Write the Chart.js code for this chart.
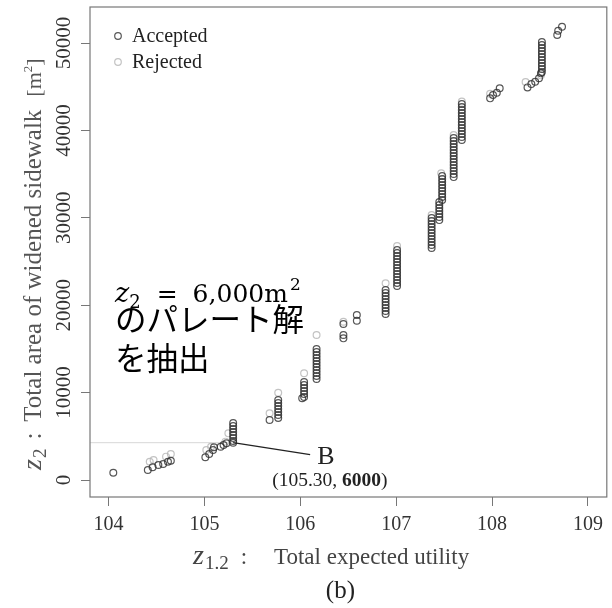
<!DOCTYPE html>
<html>
<head>
<meta charset="utf-8">
<script src="https://cdn.jsdelivr.net/npm/chart.js@4.4.0/dist/chart.umd.min.js"></script>
<style>
  html, body { margin: 0; padding: 0; background: #fff; }
  #wrap { width: 612px; height: 608px; }
</style>
</head>
<body>
<div id="wrap"><canvas id="c" width="612" height="608"></canvas></div>
<script>
// accepted solutions (dark rings)
const acceptedX = [
  104.05, 104.41, 104.46, 104.52, 104.57, 104.62, 104.65,
  105.01, 105.05, 105.09, 105.10, 105.17, 105.20, 105.23,
  105.30, 105.30, 105.30, 105.30, 105.30, 105.30, 105.30, 105.30,
  105.68,
  105.77, 105.77, 105.77, 105.77, 105.77, 105.77, 105.77,
  106.02, 106.04, 106.04, 106.04, 106.04, 106.04, 106.04,
  106.17, 106.17, 106.17, 106.17, 106.17, 106.17, 106.17, 106.17, 106.17, 106.17, 106.17,
  106.45, 106.45, 106.45,
  106.59, 106.59,
  106.89, 106.89, 106.89, 106.89, 106.89, 106.89, 106.89, 106.89, 106.89,
  107.01, 107.01, 107.01, 107.01, 107.01, 107.01, 107.01, 107.01, 107.01, 107.01, 107.01, 107.01, 107.01,
  107.37, 107.37, 107.37, 107.37, 107.37, 107.37, 107.37, 107.37, 107.37, 107.37, 107.37,
  107.45, 107.45, 107.45, 107.45, 107.45, 107.45, 107.45,
  107.48, 107.48, 107.48, 107.48, 107.48, 107.48, 107.48, 107.48, 107.48,
  107.60, 107.60, 107.60, 107.60, 107.60, 107.60, 107.60, 107.60, 107.60, 107.60, 107.60, 107.60, 107.60, 107.60,
  107.685, 107.685, 107.685, 107.685, 107.685, 107.685, 107.685, 107.685, 107.685, 107.685, 107.685, 107.685, 107.685,
  107.98, 108.01, 108.05, 108.08,
  108.37, 108.41, 108.45, 108.49, 108.51,
  108.52, 108.52, 108.52, 108.52, 108.52, 108.52, 108.52, 108.52, 108.52, 108.52, 108.52,
  108.68, 108.69, 108.73
];
const acceptedY = [
  835, 1144, 1453, 1716, 1830, 2094, 2208,
  2597, 2974, 3432, 3741, 3810, 4004, 4198,
  4270, 4460, 4800, 5150, 5490, 5830, 6180, 6520,
  6860,
  7090, 7440, 7780, 8120, 8470, 8810, 9150,
  9350, 9500, 9840, 10180, 10530, 10870, 11210,
  11560, 11900, 12240, 12580, 12930, 13270, 13610, 13960, 14300, 14640, 14990,
  16210, 16590, 17850,
  18220, 18880,
  18990, 19330, 19680, 20020, 20360, 20710, 21050, 21390, 21740,
  22190, 22540, 22880, 23220, 23570, 23910, 24250, 24600, 24940, 25280, 25630, 25970, 26310,
  26540, 26880, 27230, 27570, 27910, 28260, 28600, 28940, 29290, 29630, 29970,
  29740, 30090, 30430, 30770, 31120, 31460, 31800,
  32030, 32380, 32720, 33060, 33410, 33750, 34090, 34430, 34780,
  34660, 35010, 35350, 35690, 36040, 36380, 36720, 37070, 37410, 37750, 38100, 38440, 38780, 39130,
  38900, 39240, 39580, 39930, 40270, 40610, 40950, 41300, 41640, 41980, 42330, 42670, 43010,
  43670, 44040, 44310, 44810,
  44920, 45300, 45570, 45960, 46530,
  46680, 47020, 47360, 47700, 48050, 48390, 48730, 49080, 49420, 49760, 50110,
  50910, 51400, 51860
];
// rejected solutions (light rings)
const rejectedX = [
  104.43, 104.47, 104.60, 104.65, 105.02, 105.07, 105.22, 105.25,
  105.68, 105.77, 106.04, 106.17, 106.45, 106.89, 107.01, 107.37,
  107.47, 107.60, 107.685, 107.98, 108.35, 108.51
];
const rejectedY = [
  2090, 2290, 2670, 2980, 3430, 3810, 4390, 5340,
  7630, 9990, 12210, 16590, 18100, 22500, 26770, 30320,
  35090, 39470, 43300, 44200, 45530, 46300
];
const seriesNames = ["Accepted", "Rejected"];
const xTicks = [104, 105, 106, 107, 108, 109];
const yTicks = [0, 10000, 20000, 30000, 40000, 50000];
const pointB = { x: 105.30, y: 4270 };
const pointBLabel = ["105.30", "6000"];
const xTitle = ["z", "1.2", "Total expected utility"];
const yTitle = ["z", "2", "Total area of widened sidewalk", "m", "2"];
const noteLines = ["のパレート解", "を抽出"];

const toPoints = (xs, ys) => xs.map((x, i) => ({ x: x, y: ys[i] }));

const serif = "'Liberation Serif', 'DejaVu Serif', serif";

// draws a run of [text, font, dx before, dy] pieces from (0,0) along +x
function drawRun(ctx, pieces) {
  let x = 0;
  pieces.forEach(p => {
    ctx.font = p[1];
    x += p[2] || 0;
    ctx.fillText(p[0], x, p[3] || 0);
    x += ctx.measureText(p[0]).width;
  });
}

const decorations = {
  id: "decorations",
  beforeDatasetsDraw(chart) {
    const { ctx, chartArea, scales } = chart;
    const by = scales.y.getPixelForValue(pointB.y);
    const bx = scales.x.getPixelForValue(pointB.x);
    ctx.save();
    ctx.strokeStyle = "#d8d8d8";
    ctx.lineWidth = 1;
    ctx.beginPath();
    ctx.moveTo(chartArea.left, by);
    ctx.lineTo(bx, by);
    ctx.stroke();
    ctx.restore();
  },
  afterDraw(chart) {
    const { ctx, chartArea, scales } = chart;
    const a = chartArea;
    ctx.save();

    // plot box
    ctx.strokeStyle = "#777";
    ctx.lineWidth = 1.2;
    ctx.strokeRect(a.left, a.top, a.right - a.left, a.bottom - a.top);

    // rotated y tick labels
    ctx.fillStyle = "#333";
    ctx.font = "21px " + serif;
    ctx.textAlign = "center";
    ctx.textBaseline = "middle";
    scales.y.ticks.forEach(t => {
      const py = scales.y.getPixelForValue(t.value);
      ctx.save();
      ctx.translate(a.left - 26, py);
      ctx.rotate(-Math.PI / 2);
      ctx.fillText(String(t.value), 0, 0);
      ctx.restore();
    });

    // axis titles
    ctx.textAlign = "left";
    ctx.textBaseline = "alphabetic";
    ctx.fillStyle = "#444";
    ctx.save();
    ctx.translate(a.left + 103, a.bottom + 67);
    drawRun(ctx, [
      [xTitle[0], "italic 28px " + serif, 0, 0],
      [xTitle[1], "19px " + serif, 1, 5],
      [":", "23px " + serif, 12, 0],
      [xTitle[2], "23px " + serif, 27, 0],
    ]);
    ctx.restore();

    ctx.fillStyle = "#555";
    ctx.save();
    ctx.translate(41, a.bottom - 27);
    ctx.rotate(-Math.PI / 2);
    drawRun(ctx, [
      [yTitle[0], "italic 28px " + serif, 0, 0],
      [yTitle[1], "19px " + serif, 1, 5],
      [":", "25px " + serif, 9, 0],
      [yTitle[2], "25px " + serif, 11, 0],
      ["[", "22px " + serif, 13, 0],
      [yTitle[3], "22px " + serif, 0, 0],
      [yTitle[4], "13px " + serif, 0, -9],
      ["]", "22px " + serif, 0, 0],
    ]);
    ctx.restore();

    // legend
    const ds = chart.data.datasets;
    ctx.font = "20px " + serif;
    ctx.textBaseline = "middle";
    ds.forEach((d, i) => {
      const ly = a.top + 29 + i * 26;
      ctx.beginPath();
      ctx.arc(a.left + 28, ly, 3.3, 0, Math.PI * 2);
      ctx.strokeStyle = d.borderColor;
      ctx.lineWidth = 1.2;
      ctx.stroke();
      ctx.fillStyle = "#222";
      ctx.fillText(d.label, a.left + 42, ly + 1);
    });

    // point B callout
    const bx = scales.x.getPixelForValue(pointB.x);
    const by = scales.y.getPixelForValue(pointB.y);
    ctx.strokeStyle = "#222";
    ctx.lineWidth = 1.3;
    ctx.beginPath();
    ctx.moveTo(bx, by);
    ctx.lineTo(bx + 77, by + 12);
    ctx.stroke();
    ctx.fillStyle = "#222";
    ctx.textBaseline = "alphabetic";
    ctx.font = "26px " + serif;
    ctx.fillText("B", bx + 84, by + 21);
    ctx.save();
    ctx.translate(bx + 39, by + 43);
    drawRun(ctx, [
      ["(" + pointBLabel[0] + ", ", "19.5px " + serif, 0, 0],
      [pointBLabel[1], "bold 19.5px " + serif, 0, 0],
      [")", "19.5px " + serif, 0, 0],
    ]);
    ctx.restore();

    // note: z2 = 6,000m2 / のパレート解 / を抽出
    const nx = a.left + 25;
    ctx.fillStyle = "#000";
    ctx.save();
    ctx.translate(nx, 302);
    drawRun(ctx, [
      ["z", "italic 27px 'DejaVu Serif', serif", 0, 0],
      ["2", "18px 'DejaVu Serif', serif", 0, 6],
      ["=", "25px 'DejaVu Serif', serif", 16, 0],
      ["6,000m", "25px 'DejaVu Serif', serif", 15, 0],
      ["2", "17px 'DejaVu Serif', serif", 2, -12],
    ]);
    ctx.restore();

    ctx.font = "31.5px 'Noto Sans CJK JP', sans-serif";
    ctx.fillText(noteLines[0], nx, 331);
    ctx.fillText(noteLines[1], nx, 370);

    // panel label
    ctx.font = "25px " + serif;
    ctx.textAlign = "center";
    ctx.textBaseline = "middle";
    ctx.fillStyle = "#222";
    ctx.fillText("(b)", (a.left + a.right) / 2 - 8, chart.height - 17);
    ctx.restore();
  }
};

new Chart(document.getElementById("c"), {
  type: "scatter",
  data: {
    datasets: [
      {
        label: seriesNames[0],
        data: toPoints(acceptedX, acceptedY),
        borderColor: "rgba(45,45,45,0.8)",
        backgroundColor: "rgba(0,0,0,0)",
        borderWidth: 1.2,
        pointRadius: 3.4,
      },
      {
        label: seriesNames[1],
        data: toPoints(rejectedX, rejectedY),
        borderColor: "rgba(185,185,185,0.85)",
        backgroundColor: "rgba(0,0,0,0)",
        borderWidth: 1.2,
        pointRadius: 3.4,
      },
    ],
  },
  options: {
    responsive: false,
    animation: false,
    events: [],
    layout: { padding: { top: 7, right: 3, left: 0, bottom: 31 } },
    plugins: {
      legend: { display: false },
      tooltip: { enabled: false },
    },
    scales: {
      x: {
        type: "linear",
        min: 103.807,
        max: 109.197,
        afterBuildTicks: s => { s.ticks = xTicks.map(v => ({ value: v })); },
        afterFit: s => { s.height = 80; },
        border: { display: false },
        grid: { display: true, drawOnChartArea: false, drawTicks: true, tickLength: 9, color: "#777" },
        ticks: {
          color: "#333",
          padding: 7,
          maxRotation: 0,
          font: { family: serif, size: 20 },
        },
        title: { display: false },
      },
      y: {
        type: "linear",
        min: -1945,
        max: 54120,
        afterBuildTicks: s => { s.ticks = yTicks.map(v => ({ value: v })); },
        afterFit: s => { s.width = 90; },
        border: { display: false },
        grid: { display: true, drawOnChartArea: false, drawTicks: true, tickLength: 9, color: "#777" },
        ticks: { display: false },
        title: { display: false },
      },
    },
  },
  plugins: [decorations],
});
</script>
</body>
</html>
